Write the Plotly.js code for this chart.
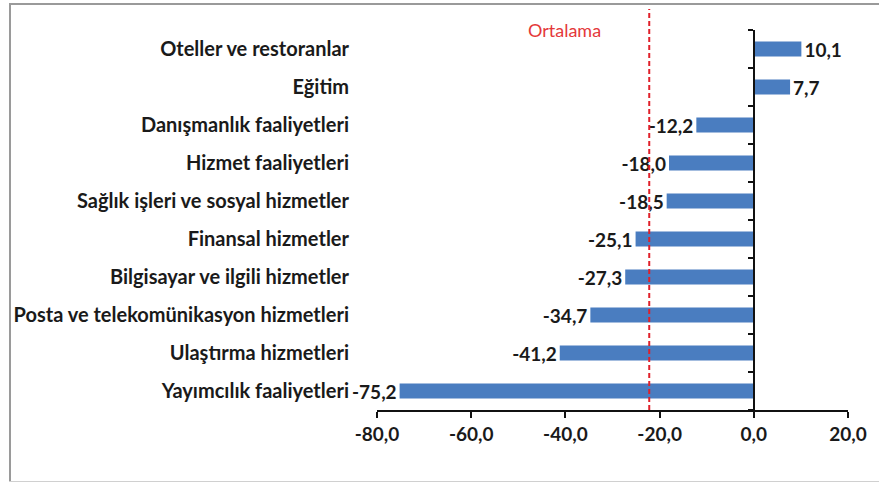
<!DOCTYPE html>
<html>
<head>
<meta charset="utf-8">
<script src="https://cdn.plot.ly/plotly-3.0.1.min.js"></script>
<style>
  html, body { margin: 0; padding: 0; background: #fff; }
  #wrap { position: relative; width: 887px; height: 483px; overflow: hidden; }
  #chart { position: absolute; left: 0; top: 0; width: 887px; height: 483px; }
  .bl { position: absolute; left: 9px; top: 3px; width: 2px; height: 479px; background: #9a9a9a; }
  .bt { position: absolute; left: 9px; top: 3px; width: 870px; height: 2px; background: #9a9a9a; }
  .bb { position: absolute; left: 9px; top: 481px; width: 870px; height: 1px; background: #d0d0d0; }
</style>
</head>
<body>
<div id="wrap">
  <div id="chart"></div>
  <div class="bl"></div><div class="bt"></div><div class="bb"></div>
</div>
<script>
var categories = [
  "Oteller ve restoranlar",
  "Eğitim",
  "Danışmanlık faaliyetleri",
  "Hizmet faaliyetleri",
  "Sağlık işleri ve sosyal hizmetler",
  "Finansal hizmetler",
  "Bilgisayar ve ilgili hizmetler",
  "Posta ve telekomünikasyon hizmetleri",
  "Ulaştırma hizmetleri",
  "Yayımcılık faaliyetleri"
];
var values = [10.1, 7.7, -12.2, -18.0, -18.5, -25.1, -27.3, -34.7, -41.2, -75.2];
var average = -22.2;
var averageLabel = "Ortalama";
var xTicks = [-80, -60, -40, -20, 0, 20];

function fmt(v) { return v.toFixed(1).replace('.', ','); }

var FONT = 'Lato, "Liberation Sans", Arial, sans-serif';
var boundaries = [];
for (var i = 0; i <= categories.length; i++) boundaries.push(i - 0.5);

var traces = [
  {
    type: 'bar',
    orientation: 'h',
    x: values,
    y: categories,
    marker: { color: '#4a7dc0' },
    text: values.map(fmt),
    textposition: 'outside',
    constraintext: 'none',
    cliponaxis: false,
    textfont: { family: FONT, size: 19, color: '#1a1a1a', weight: 'bold' },
    hoverinfo: 'x+y'
  },
  {
    type: 'scatter',
    x: [null],
    y: [null],
    yaxis: 'y2',
    showlegend: false,
    hoverinfo: 'skip'
  }
];

var layout = {
  width: 887,
  height: 483,
  margin: { l: 377, r: 39, t: 30, b: 73 },
  paper_bgcolor: 'rgba(0,0,0,0)',
  plot_bgcolor: 'rgba(0,0,0,0)',
  showlegend: false,
  bargap: 0.6,
  font: { family: FONT, color: '#1a1a1a' },
  xaxis: {
    range: [-80, 20],
    tickvals: xTicks,
    ticktext: xTicks.map(fmt),
    ticks: 'outside',
    ticklen: 6,
    tickwidth: 2,
    tickcolor: '#111',
    showline: true,
    linecolor: '#111',
    linewidth: 2,
    showgrid: false,
    zeroline: false,
    tickfont: { family: FONT, size: 19, color: '#1a1a1a', weight: 'bold' }
  },
  yaxis: {
    type: 'category',
    categoryorder: 'array',
    categoryarray: categories,
    autorange: 'reversed',
    ticks: '',
    showline: false,
    showgrid: false,
    zeroline: false,
    ticklabelstandoff: 27,
    tickfont: { family: FONT, size: 20, color: '#1a1a1a', weight: 'bold' }
  },
  yaxis2: {
    overlaying: 'y',
    anchor: 'free',
    side: 'left',
    position: 0.8,
    range: [categories.length - 0.5, -0.5],
    tickvals: boundaries,
    showticklabels: false,
    ticks: 'outside',
    ticklen: 5,
    tickwidth: 2,
    tickcolor: '#111',
    showline: true,
    linecolor: '#111',
    linewidth: 2,
    showgrid: false,
    zeroline: false
  },
  shapes: [
    {
      type: 'line',
      xref: 'x',
      yref: 'paper',
      x0: average, x1: average,
      y0: 0, y1: 1.055,
      line: { color: '#e0202a', width: 2, dash: '5px,3px' }
    }
  ],
  annotations: [
    {
      xref: 'x', yref: 'paper',
      x: average, y: 1.0,
      xanchor: 'right', yanchor: 'middle',
      xshift: -46,
      text: averageLabel,
      showarrow: false,
      font: { family: FONT, size: 18, color: '#e4383a' }
    }
  ]
};

Plotly.newPlot('chart', traces, layout, { displayModeBar: false, staticPlot: true });
</script>
</body>
</html>
